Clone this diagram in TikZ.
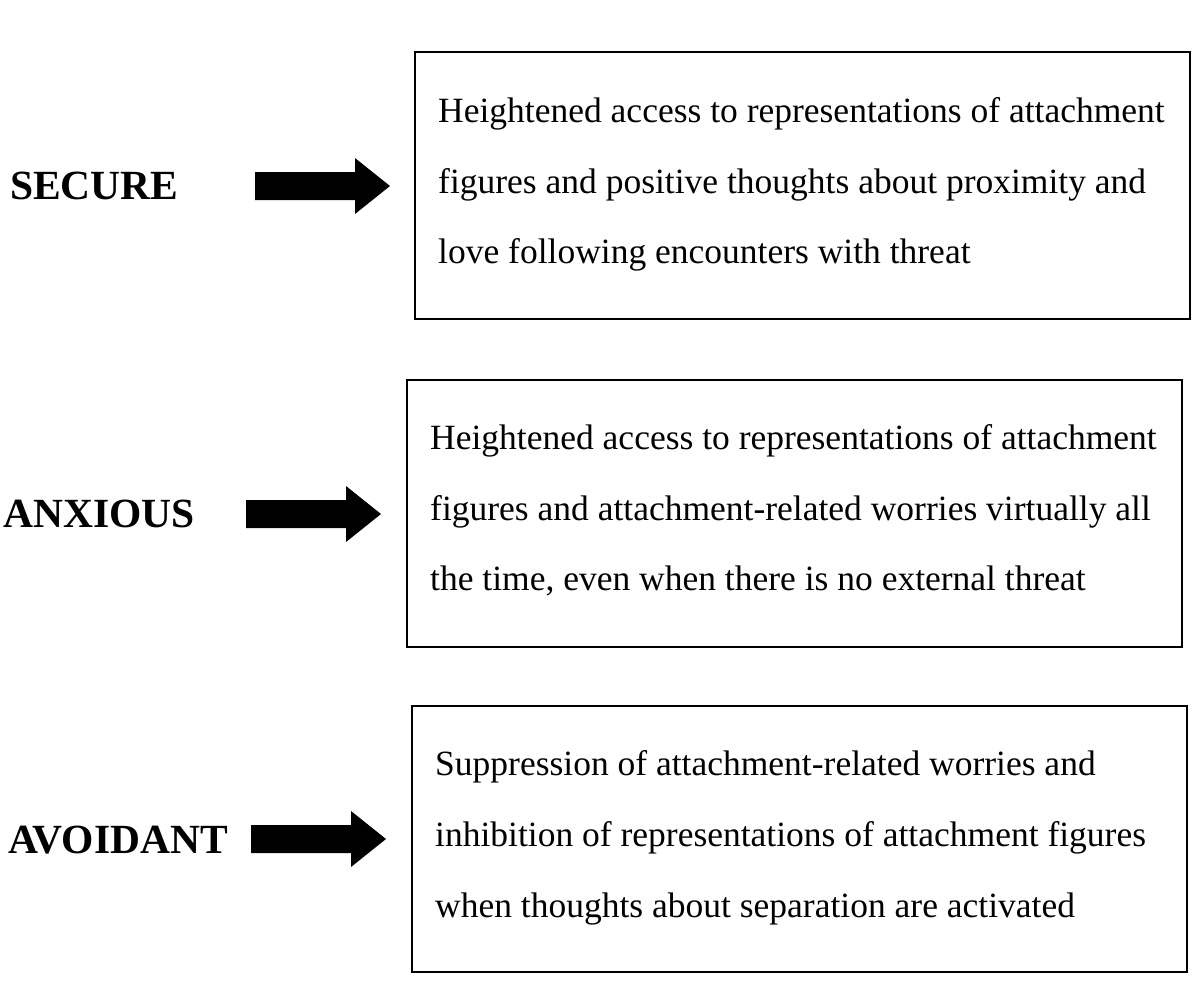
\documentclass[tikz,border=0pt]{standalone}
\usepackage{fontspec}
\setmainfont{Liberation Serif}
\begin{document}
\begin{tikzpicture}[x=1pt,y=-1pt,
  box/.style={draw,line width=1.5pt},
  txt/.style={anchor=base west,font=\fontsize{35.5}{35.5}\selectfont,inner sep=0},
  lab/.style={anchor=west,font=\fontsize{41.5}{41.5}\selectfont\bfseries,inner sep=0},
  blk/.style={fill=black}]
\useasboundingbox (0,0) rectangle (1199,986);
% boxes
\draw[box] (415,52) rectangle (1190,319);
\draw[box] (407,380) rectangle (1182,647);
\draw[box] (412,706) rectangle (1187,972);
% texts
\node[txt] (a1) at (438,122) {Heightened access to representations of attachment};
\node[txt] (a2) at (438,193) {figures and positive thoughts about proximity and};
\node[txt] (a3) at (438,263) {love following encounters with threat};
\node[txt] (b1) at (430,449) {Heightened access to representations of attachment};
\node[txt] (b2) at (430,520) {figures and attachment-related worries virtually all};
\node[txt] (b3) at (430,590) {the time, even when there is no external threat};
\node[txt] (c1) at (435,775) {Suppression of attachment-related worries and};
\node[txt] (c2) at (435,846) {inhibition of representations of attachment figures};
\node[txt] (c3) at (435,917) {when thoughts about separation are activated};
% labels
\node[lab] (s) at (10,186) {SECURE};
\node[lab] (an) at (3,514) {ANXIOUS};
\node[lab] (av) at (8,840) {AVOIDANT};
% arrows
\foreach \x/\y in {255/186, 246/514, 251/839}{
  \fill (\x,\y-14) -- (\x+100,\y-14) -- (\x+100,\y-28) -- (\x+135,\y) -- (\x+100,\y+28) -- (\x+100,\y+14) -- (\x,\y+14) -- cycle;
}
\end{tikzpicture}
\end{document}
